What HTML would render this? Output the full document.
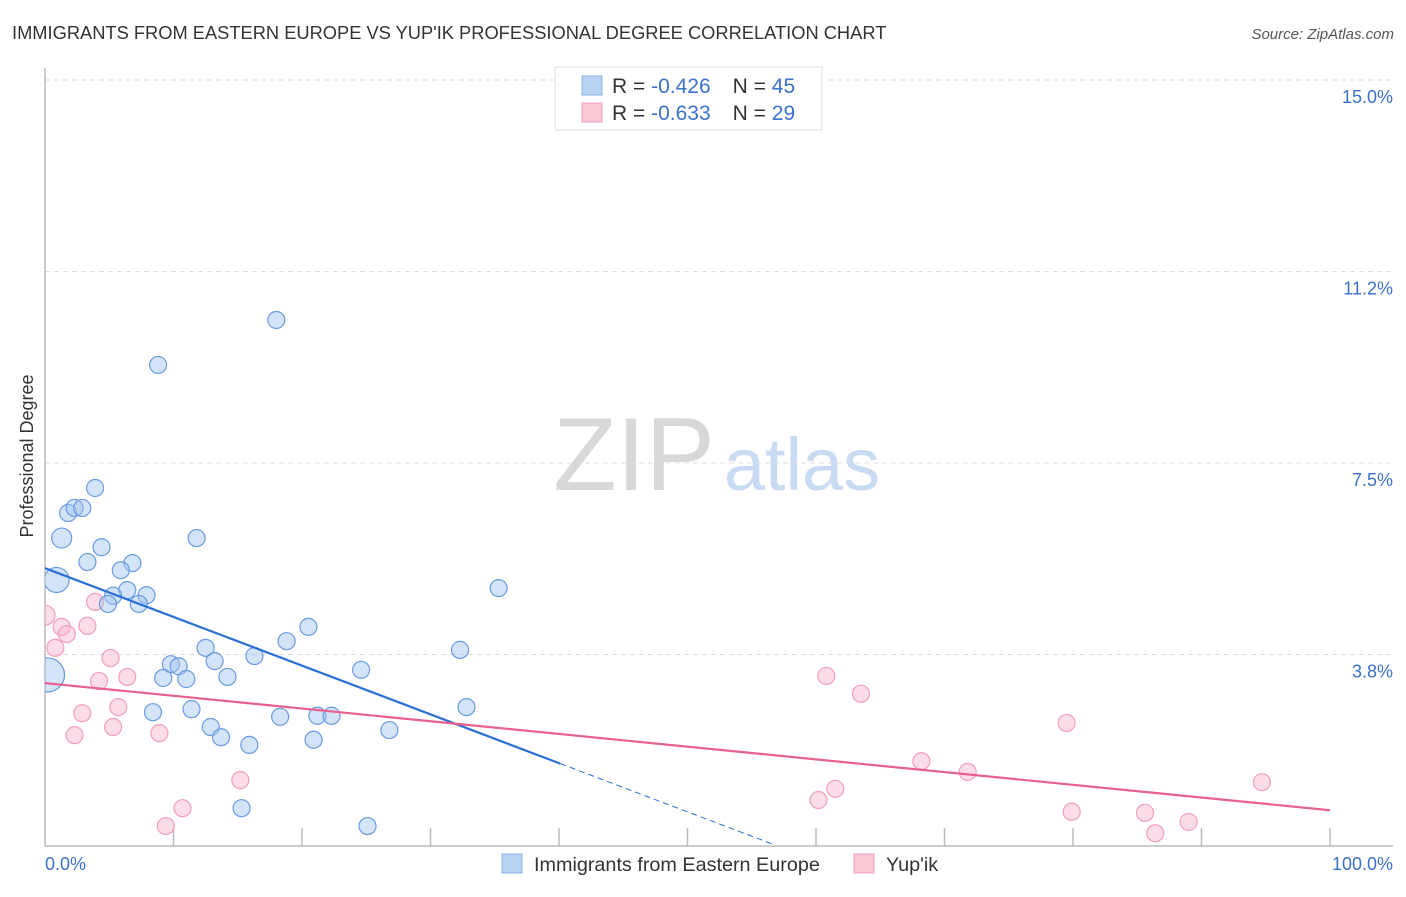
<!DOCTYPE html>
<html><head><meta charset="utf-8"><style>
body{margin:0;background:#fff;font-family:"Liberation Sans",sans-serif}
svg text{font-family:"Liberation Sans",sans-serif}
</style></head><body>
<svg id="chart" width="1406" height="892" xmlns="http://www.w3.org/2000/svg">
<text x="12" y="39" font-size="18.3" fill="#333">IMMIGRANTS FROM EASTERN EUROPE VS YUP'IK PROFESSIONAL DEGREE CORRELATION CHART</text>
<text x="1394" y="39" font-size="15" fill="#555" font-style="italic" text-anchor="end">Source: ZipAtlas.com</text>
<g>
<text x="634" y="490" font-size="104" fill="#d8d8d8" text-anchor="middle" font-family="Liberation Serif, serif">ZIP</text>
<text x="802" y="490" font-size="74" fill="#c9dbf3" text-anchor="middle">atlas</text>
</g>
<g id="grid"></g>
<g id="axes"></g>
<g id="marks"></g>
<text transform="translate(33,456) rotate(-90)" font-size="18" fill="#333" text-anchor="middle">Professional Degree</text>
<g>
<rect x="555" y="67" width="267" height="63" fill="#fff" stroke="#ddd"/>
<rect x="582" y="76" width="20" height="19" fill="#b9d3f5" stroke="#8ab0e6"/>
<rect x="582" y="103" width="20" height="19" fill="#fcc8d6" stroke="#f0a0b8"/>
<text x="612" y="93" font-size="21" fill="#333">R = <tspan fill="#3b72c9">-0.426</tspan><tspan dx="22">N = </tspan><tspan fill="#3b72c9">45</tspan></text>
<text x="612" y="120" font-size="21" fill="#333">R = <tspan fill="#3b72c9">-0.633</tspan><tspan dx="22">N = </tspan><tspan fill="#3b72c9">29</tspan></text>
</g>
<g>
<rect x="502" y="854" width="20" height="19" fill="#b9d3f5" stroke="#8ab0e6"/>
<text x="534" y="871" font-size="19.8" fill="#333">Immigrants from Eastern Europe</text>
<rect x="854" y="854" width="20" height="19" fill="#fcc8d6" stroke="#f0a0b8"/>
<text x="886" y="871" font-size="19.8" fill="#333">Yup'ik</text>
</g>
<defs><clipPath id="plotclip"><rect x="45" y="60" width="1360" height="786"/></clipPath></defs>
</svg>
<script>
const yTicks=[15.0,11.25,7.5,3.75];
const yTickLabels=["15.0%","11.2%","7.5%","3.8%"];
const xTickLabels=["0.0%","100.0%"];
const blueX=[18.0,8.8,3.9,1.8,2.3,2.9,1.3,11.8,4.4,3.3,6.8,5.9,0.9,6.4,5.3,7.9,7.3,4.9,35.3,20.5,18.8,12.5,32.3,16.3,13.2,9.8,10.4,9.2,11.0,14.2,24.6,0.2,8.4,11.4,32.8,18.3,21.2,22.3,12.9,26.8,13.7,20.9,15.9,15.3,25.1];
const blueY=[10.30,9.42,7.01,6.52,6.62,6.62,6.03,6.03,5.85,5.56,5.54,5.40,5.21,5.01,4.90,4.91,4.74,4.74,5.05,4.29,4.01,3.88,3.84,3.72,3.62,3.56,3.52,3.29,3.27,3.31,3.45,3.35,2.62,2.68,2.72,2.53,2.55,2.55,2.33,2.27,2.13,2.08,1.98,0.74,0.39];
const blueR=[8.5,8.5,8.5,8.5,8.5,8.5,10,8.5,8.5,8.5,8.5,8.5,12.5,8.5,8.5,8.5,8.5,8.5,8.5,8.5,8.5,8.5,8.5,8.5,8.5,8.5,8.5,8.5,8.5,8.5,8.5,17,8.5,8.5,8.5,8.5,8.5,8.5,8.5,8.5,8.5,8.5,8.5,8.5,8.5];
const pinkX=[0,1.3,1.7,3.3,3.9,0.8,5.1,6.4,4.2,2.9,5.7,5.3,2.3,8.9,15.2,10.7,9.4,60.8,63.5,79.5,68.2,71.8,61.5,60.2,79.9,85.6,86.4,89.0,94.7];
const pinkY=[4.52,4.29,4.15,4.31,4.78,3.88,3.68,3.31,3.23,2.60,2.72,2.33,2.17,2.21,1.29,0.74,0.39,3.33,2.98,2.41,1.66,1.45,1.12,0.90,0.67,0.65,0.25,0.47,1.25];
const blueTrend=[5.44,0.02];
const blueTrendSolidEnd=40.1;
const pinkTrend=[3.19,0.70];
const NS="http://www.w3.org/2000/svg";
const X=v=>45+v*12.85, Y=v=>846-v*51.07;
function mk(tag,attrs,parent){const e=document.createElementNS(NS,tag);for(const k in attrs)e.setAttribute(k,attrs[k]);document.getElementById(parent).appendChild(e);return e;}
yTicks.forEach((t,i)=>{
 const l=mk('line',{x1:45,x2:1393,y1:Y(t),y2:Y(t),stroke:'#ddd','stroke-dasharray':'5,4'},'grid');
 
 
 const tx=mk('text',{x:1393,y:Y(t)+23,'font-size':18,fill:'#3b72c9','text-anchor':'end'},'grid');
 tx.textContent=yTickLabels[i];
 
 
});
let a=mk('line',{x1:45,x2:45,y1:68,y2:846,stroke:'#bbb','stroke-width':1.5},'axes');


a=mk('line',{x1:45,x2:1393,y1:846,y2:846,stroke:'#bbb','stroke-width':1.5},'axes');


for(let k=1;k<=10;k++){const t=mk('line',{x1:X(k*10),x2:X(k*10),y1:828,y2:846,stroke:'#bbb','stroke-width':1.5},'axes');
 
 }
[[0,'start',45],[100,'end',1393]].forEach((d,i)=>{const t=mk('text',{x:d[2],y:870,'font-size':18,fill:'#3b72c9','text-anchor':d[1]},'axes');t.textContent=xTickLabels[i];
 
 });
const g=document.getElementById('marks');g.setAttribute('clip-path','url(#plotclip)');
pinkX.forEach((x,i)=>{const c=mk('circle',{cx:X(x),cy:Y(pinkY[i]),r:x===0?10:8.5,fill:'rgba(248,180,200,0.45)',stroke:'#f0a0b8','stroke-width':1.2},'marks');
 
 });
blueX.forEach((x,i)=>{const c=mk('circle',{cx:X(x),cy:Y(blueY[i]),r:blueR[i],fill:'rgba(160,196,240,0.45)',stroke:'#6a9be0','stroke-width':1.2},'marks');
 
 });
const by=x=>blueTrend[0]+(blueTrend[1]-blueTrend[0])*x/56.8;
let l=mk('line',{x1:X(0),y1:Y(blueTrend[0]),x2:X(blueTrendSolidEnd),y2:Y(by(blueTrendSolidEnd)),stroke:'#2a6fd6','stroke-width':2.2},'marks');


l=mk('line',{x1:X(blueTrendSolidEnd),y1:Y(by(blueTrendSolidEnd)),x2:X(56.8),y2:Y(blueTrend[1]),stroke:'#2a6fd6','stroke-width':1,'stroke-dasharray':'6,4'},'marks');


l=mk('line',{x1:X(0),y1:Y(pinkTrend[0]),x2:X(100),y2:Y(pinkTrend[1]),stroke:'#e8608f','stroke-width':2.2},'marks');


</script>
</body></html>
